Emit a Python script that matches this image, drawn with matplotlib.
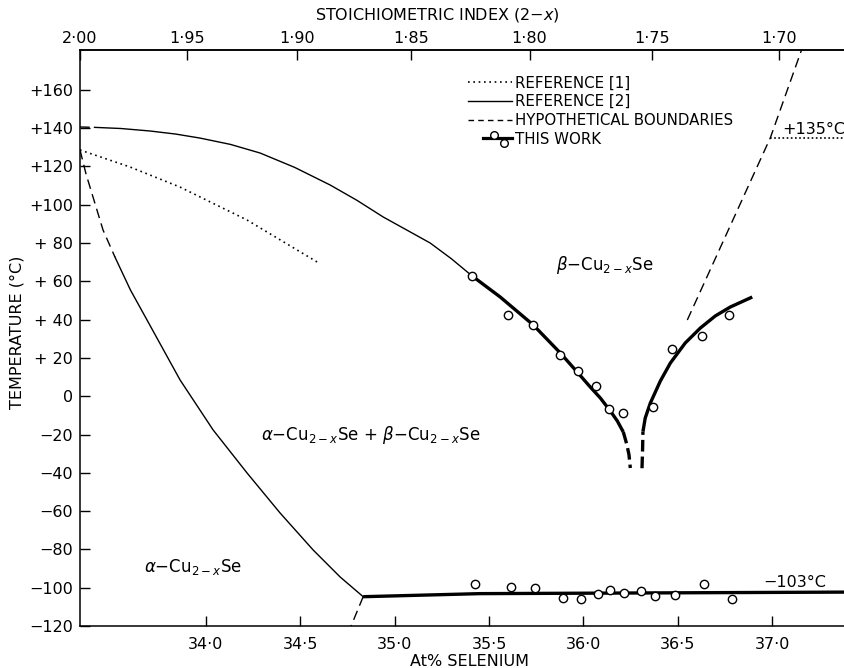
import numpy as np
import matplotlib
matplotlib.use("Agg")
from matplotlib import pyplot as plt
from matplotlib.lines import Line2D
from matplotlib.legend_handler import HandlerBase

plt.rcParams["font.family"] = ["DejaVu Sans"]
plt.rcParams["mathtext.fontset"] = "dejavusans"

# ---- data (x: at% Se, t: temperature in degC) ----
# reference [1], dotted
ref1_x = [33.333, 33.598, 33.863, 34.218, 34.589]
ref1_t = [128.6, 119.7, 109.2, 92.0, 70.1]

# reference [2], thin solid (short dashed start at the left)
ref2_dash_x = [33.333, 33.41]
ref2_dash_t = [140.6, 140.4]
ref2_x = [33.41, 33.55, 33.704, 33.84, 33.969, 34.13, 34.287, 34.47, 34.658, 34.80,
          34.939, 35.06, 35.188, 35.30, 35.41]
ref2_t = [140.4, 139.8, 138.5, 136.9, 134.8, 131.5, 127.0, 119.5, 110.3, 102.3,
          93.6, 87.0, 80.0, 71.8, 62.8]

# alpha / alpha+beta boundary
alpha_dash_x = [33.333, 33.365, 33.402, 33.455, 33.518]
alpha_dash_t = [128.6, 116.0, 104.0, 86.8, 72.7]
alpha_x = [33.518, 33.60, 33.688, 33.863, 34.038, 34.218, 34.393, 34.568, 34.711, 34.833]
alpha_t = [72.7, 55.5, 39.8, 8.5, -17.6, -40.1, -61.0, -80.3, -94.4, -104.7]

# this work: left branch
left_x = [35.410, 35.559, 35.734, 35.877, 35.967, 36.036, 36.089, 36.142, 36.179, 36.211]
left_t = [62.8, 51.8, 37.2, 22.6, 12.6, 4.8, -0.9, -7.7, -12.9, -18.7]
left_dash_x = [36.211, 36.229, 36.241, 36.248]
left_dash_t = [-18.7, -25.0, -30.5, -37.5]

# this work: right branch
right_dash_x = [36.310, 36.313, 36.315]
right_dash_t = [-37.6, -28.1, -18.5]
right_x = [36.315, 36.327, 36.354, 36.407, 36.460, 36.539, 36.619, 36.698, 36.778, 36.894]
right_t = [-18.5, -11.4, -3.6, 7.9, 17.3, 27.8, 35.6, 41.9, 46.6, 51.8]

# this work: -103 degC line
low_x = [34.833, 35.45, 37.38]
low_t = [-104.7, -103.1, -102.3]
low_dash_x = [34.833, 34.769]
low_dash_t = [-104.7, -120.0]

# hypothetical boundary on the right + 135 degC line
hyp_x = [36.550, 36.990, 37.155]
hyp_t = [39.8, 135.0, 180.8]
l135_x = [36.990, 37.38]
l135_t = [135.0, 135.0]

# measured points
pts_x = [35.410, 35.601, 35.734, 35.877, 35.972, 36.068, 36.137, 36.211,
         36.370, 36.470, 36.629, 36.772]
pts_t = [62.8, 42.4, 37.2, 21.5, 13.2, 5.3, -6.7, -8.8,
         -5.6, 24.6, 31.4, 42.4]
low_pts_x = [35.426, 35.615, 35.744, 35.891, 35.988, 36.077, 36.143, 36.217,
             36.306, 36.380, 36.486, 36.636, 36.787]
low_pts_t = [-98.1, -99.8, -100.3, -105.5, -106.1, -103.3, -101.2, -102.9,
             -101.6, -104.2, -103.8, -98.1, -106.1]

# ticks
y_ticks = [160, 140, 120, 100, 80, 60, 40, 20, 0, -20, -40, -60, -80, -100, -120]
y_labels = ["+160", "+140", "+120", "+100", "+ 80", "+ 60", "+ 40", "+ 20", "0",
            "\u221220", "\u221240", "\u221260", "\u221280", "\u2212100", "\u2212120"]
x_ticks = [34.0, 34.5, 35.0, 35.5, 36.0, 36.5, 37.0]
x_labels = ["34\u00b70", "34\u00b75", "35\u00b70", "35\u00b75", "36\u00b70", "36\u00b75", "37\u00b70"]
idx_ticks = [2.00, 1.95, 1.90, 1.85, 1.80, 1.75, 1.70]
idx_labels = ["2\u00b700", "1\u00b795", "1\u00b790", "1\u00b785", "1\u00b780", "1\u00b775", "1\u00b770"]


class ThisWorkHandler(HandlerBase):
    def create_artists(self, legend, orig_handle, xdescent, ydescent,
                       width, height, fontsize, trans):
        y = height / 2 - ydescent
        line = Line2D([-xdescent + 0.35 * width, width - xdescent], [y, y],
                      lw=2.3, color="k", transform=trans)
        c1 = Line2D([0.6 * width], [y + 0.3 * height], marker="o", ms=5.5,
                    mfc="white", mec="k", mew=1.0, ls="none", transform=trans)
        c2 = Line2D([0.82 * width], [y - 0.4 * height], marker="o", ms=5.5,
                    mfc="white", mec="k", mew=1.0, ls="none", transform=trans)
        return [line, c1, c2]


fig = plt.figure(figsize=(8.44, 6.68), dpi=100)
ax = fig.add_axes([80 / 844, 42 / 668, 764 / 844, 576 / 668])

thin = dict(color="k", lw=1.0)
thick = dict(color="k", lw=2.4, solid_capstyle="butt", solid_joinstyle="round")
dash = dict(color="k", lw=1.0, ls=(0, (7, 4)))

ax.plot(ref1_x, ref1_t, color="k", lw=1.2, ls=(0, (1, 2.2)))
ax.plot(ref2_dash_x, ref2_dash_t, **dash)
ax.plot(ref2_x, ref2_t, **thin)
ax.plot(alpha_dash_x, alpha_dash_t, **dash)
ax.plot(alpha_x, alpha_t, **thin)
ax.plot(left_x, left_t, **thick)
ax.plot(left_dash_x, left_dash_t, color="k", lw=2.4, ls=(0, (3.5, 1.5)))
ax.plot(right_x, right_t, **thick)
ax.plot(right_dash_x, right_dash_t, color="k", lw=2.4, ls=(0, (3.5, 1.5)))
ax.plot(low_x, low_t, **thick)
ax.plot(low_dash_x, low_dash_t, **dash)
ax.plot(hyp_x, hyp_t, **dash)
ax.plot(l135_x, l135_t, color="k", lw=1.2, ls=(0, (1, 1.5)))

mk = dict(ls="none", marker="o", ms=6, mfc="white", mec="k", mew=1.0, zorder=5)
ax.plot(pts_x, pts_t, **mk)
ax.plot(low_pts_x, low_pts_t, **mk)

ax.set_xlim(33.333, 37.38)
ax.set_ylim(-120, 180.8)

ax.set_yticks(y_ticks)
ax.set_yticklabels(y_labels)
ax.set_xticks(x_ticks)
ax.set_xticklabels(x_labels)
ax.tick_params(direction="in", length=7, width=1.0, labelsize=11.5, pad=5)
ax.tick_params(axis="x", pad=8)
ax.spines["right"].set_visible(False)
for s in ["left", "bottom", "top"]:
    ax.spines[s].set_linewidth(1.1)

ax.set_xlabel("At% SELENIUM", fontsize=11.5)
ax.xaxis.set_label_coords(0.51, -0.048)
ax.set_ylabel("TEMPERATURE (\u00b0C)", fontsize=11.5)
ax.yaxis.set_label_coords(-0.073, 0.51)

sec = ax.secondary_xaxis("top", functions=(lambda a: 100.0 / a - 1.0,
                                            lambda s: 100.0 / (1.0 + s)))
sec.set_xticks(idx_ticks)
sec.set_xticklabels(idx_labels)
sec.tick_params(direction="in", length=7, width=1.0, labelsize=11.5, pad=3)
sec.spines["top"].set_linewidth(1.1)
fig.text(437 / 844, 1 - 15 / 668, "STOICHIOMETRIC INDEX (2\u2212$x$)",
         fontsize=11.5, ha="center", va="center")

# region labels
ax.text(36.115, 68.5, r"$\beta$" + "\u2212Cu$_{2-x}$Se", fontsize=12, ha="center", va="center")
ax.text(34.875, -20.3, r"$\alpha$" + "\u2212Cu$_{2-x}$Se + " + r"$\beta$" + "\u2212Cu$_{2-x}$Se",
        fontsize=12, ha="center", va="center")
ax.text(33.932, -89.2, r"$\alpha$" + "\u2212Cu$_{2-x}$Se", fontsize=12, ha="center", va="center")
ax.text(37.053, 139.5, "+135\u00b0C", fontsize=11.5, ha="left", va="center")
ax.text(36.953, -97.5, "\u2212103\u00b0C", fontsize=11.5, ha="left", va="center")

handles = [
    Line2D([], [], color="k", lw=1.2, ls=(0, (1, 2.2))),
    Line2D([], [], color="k", lw=1.0),
    Line2D([], [], color="k", lw=1.0, ls=(0, (4, 3))),
    Line2D([], [], color="k", lw=2.3),
]
labels = ["REFERENCE [1]", "REFERENCE [2]", "HYPOTHETICAL BOUNDARIES", "THIS WORK"]
ax.legend(handles, labels, loc="upper left", bbox_to_anchor=(0.508, 0.956),
          frameon=False, fontsize=10.8, handlelength=2.9, handletextpad=0.25,
          labelspacing=0.25, borderpad=0, borderaxespad=0,
          handler_map={handles[3]: ThisWorkHandler()})

fig.savefig("out.png", dpi=100)
